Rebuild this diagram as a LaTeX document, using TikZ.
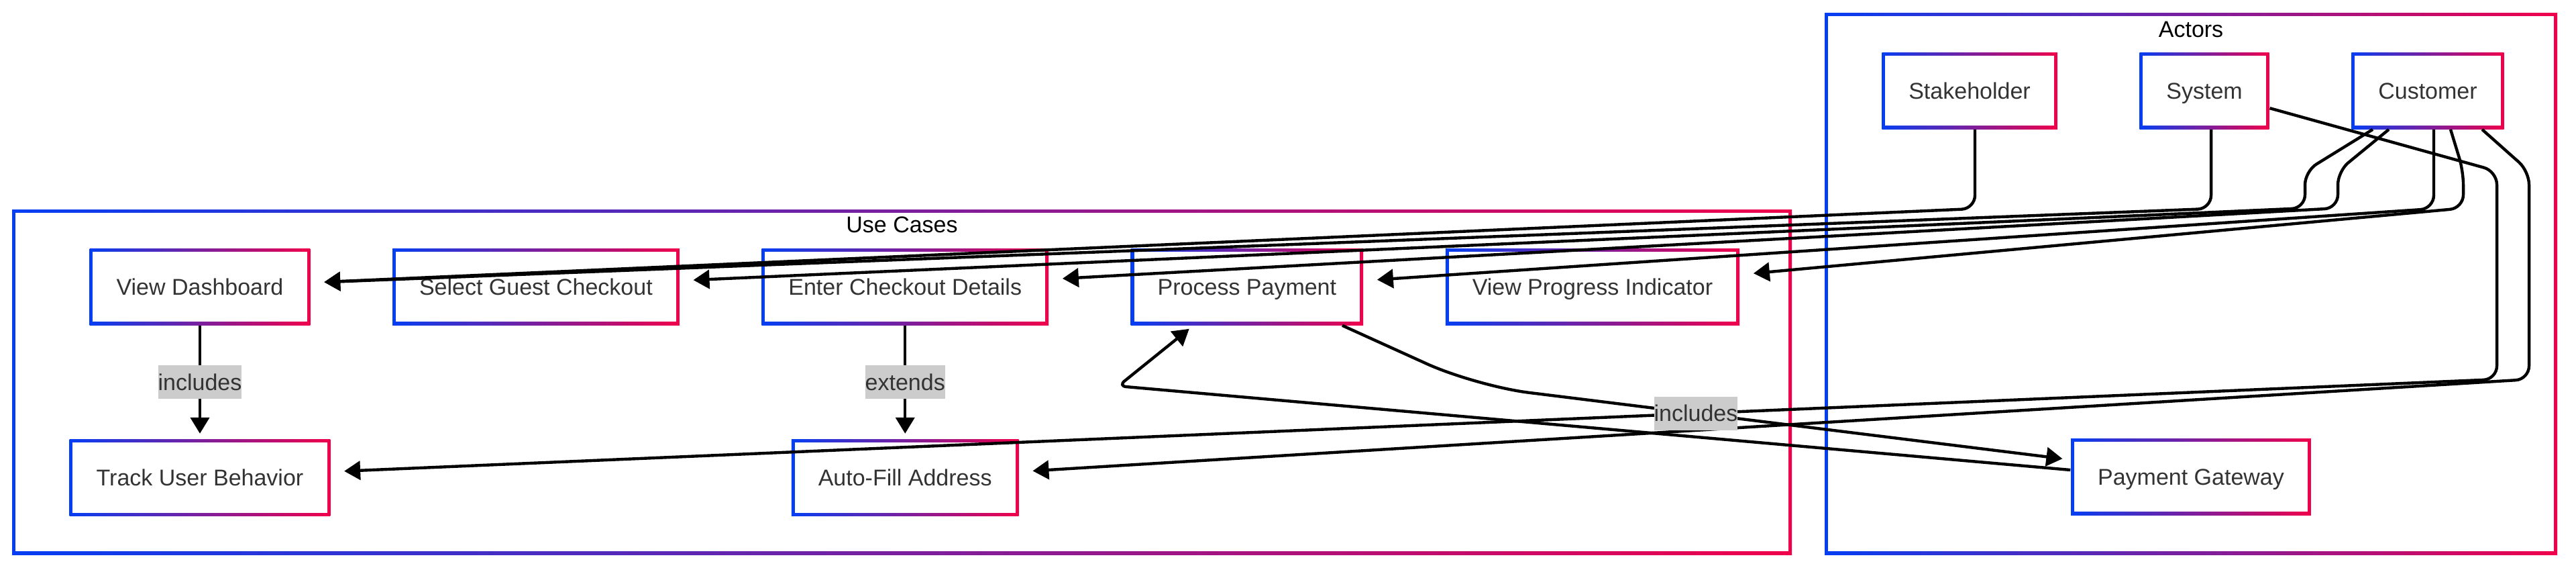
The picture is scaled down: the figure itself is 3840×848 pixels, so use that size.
\documentclass[tikz,border=0pt]{standalone}
\usepackage{fontspec}
\setmainfont{Liberation Sans}
\usetikzlibrary{positioning,arrows.meta}
\definecolor{ucblue}{RGB}{5,62,242}
\definecolor{ucred}{RGB}{240,0,75}
\definecolor{ucgray}{RGB}{51,51,51}

\begin{document}
\begin{tikzpicture}[x=0.25pt, y=-0.25pt, node distance=42.25pt and 30.25pt,
  gradbox/.style={rectangle, left color=ucblue, right color=ucred, path picture={\fill[white] ([shift={(1.2pt,1.2pt)}]path picture bounding box.south west) rectangle ([shift={(-1.2pt,-1.2pt)}]path picture bounding box.north east);}},
  usecase/.style={gradbox, minimum height=28.5pt, inner xsep=10pt, inner ysep=0pt, text height=6.1pt, text depth=0pt, text=ucgray, font=\fontsize{8.5pt}{10pt}\selectfont},
  cluster/.style={gradbox, inner sep=0pt},
  cluster-title/.style={font=\fontsize{8.5pt}{10pt}\selectfont, text=black, inner sep=0pt},
  association/.style={line width=1.1pt, rounded corners=5pt, -{Triangle[length=6pt, width=7pt]}, shorten >=5pt},
  stereotype/.style={sharp corners, fill=black!20, text=ucgray, inner xsep=0pt, inner ysep=0pt, text height=6.1pt, text depth=0pt, minimum height=12.5pt, font=\fontsize{8.5pt}{10pt}\selectfont}]

\useasboundingbox (0,0) rectangle (3840,848);

% CLUSTERS

\node [cluster, minimum width=663.25pt, minimum height=128.5pt] (use-cases) at (1344.5,569) {};
\node [cluster-title] (use-cases-title) at ([yshift=-6pt]use-cases.north) {Use Cases};

\node [cluster, minimum width=273pt, minimum height=201.75pt] (actors) at (3266,422.5) {};
\node [cluster-title] (actors-title) at ([yshift=-6.5pt]actors.north) {Actors};

% USE CASES

\node [usecase] (view-dashboard) at (298,427) {View Dashboard};
\node [usecase, right=of view-dashboard] (select-guest-checkout) {Select Guest Checkout};
\node [usecase, right=of select-guest-checkout] (enter-checkout-details) {Enter Checkout Details};
\node [usecase, right=of enter-checkout-details] (process-payment) {Process Payment};
\node [usecase, right=of process-payment] (view-progress-indicator) {View Progress Indicator};

\node [usecase, below=of view-dashboard] (track-user-behavior) {Track User Behavior};
\node [usecase, below=of enter-checkout-details] (auto-fill-address) {Auto-Fill Address};

% ACTORS

\node [usecase] (stakeholder) at (2936,135) {Stakeholder};
\node [usecase, right=of stakeholder] (system) {System};
\node [usecase, right=of system] (customer) {Customer};

\node [usecase] (payment-gateway) at (3266,710) {Payment Gateway};

% ASSOCIATIONS

\draw [association] ([xshift=2pt]stakeholder.south) -- ++(0,118) -- ([yshift=1.5pt]view-dashboard.east);
\draw [association] ([xshift=2.5pt]system.south) -- ++(0,118) -- ([yshift=1.5pt]view-dashboard.east);

\draw [association] ([xshift=-20.5pt]customer.south) -- (3436,255) -- (3436,310) -- ([yshift=2.25pt]select-guest-checkout.east);
\draw [association] ([xshift=-14.5pt]customer.south) -- (3485,255) -- (3485,310) -- ([yshift=2.75pt]enter-checkout-details.east);
\draw [association] ([xshift=2.25pt]customer.south) -- ++(0,118) -- ([yshift=2.25pt]process-payment.east);
\draw [association] ([xshift=8.5pt]customer.south) -- (3672,255) -- (3672,310) -- ([yshift=4.5pt]view-progress-indicator.east);
\draw [association] ([xshift=20.25pt]customer.south) -- (3770,255) -- (3770,565) -- ([yshift=2.25pt]auto-fill-address.east);

\draw [association] (system.-15) -- (3722,255) -- (3722,565) -- ([yshift=2.25pt]track-user-behavior.east);

\draw [association, shorten >=2pt] (view-dashboard) -- node [stereotype] {includes} (track-user-behavior);
\draw [association, shorten >=2pt] (enter-checkout-details) -- node [stereotype] {extends} (auto-fill-address);

\draw [association, rounded corners=3pt, shorten >=2pt] ([yshift=2.5pt]payment-gateway.west) -- (1667,575) -- ([xshift=-20pt]process-payment.south);
\draw [association, rounded corners=20pt, shorten >=3pt] ([xshift=-8pt]process-payment.south east) -- (2200,575) -- node [stereotype, pos=0.37] {includes} (payment-gateway.172);

\end{tikzpicture}
\end{document}
